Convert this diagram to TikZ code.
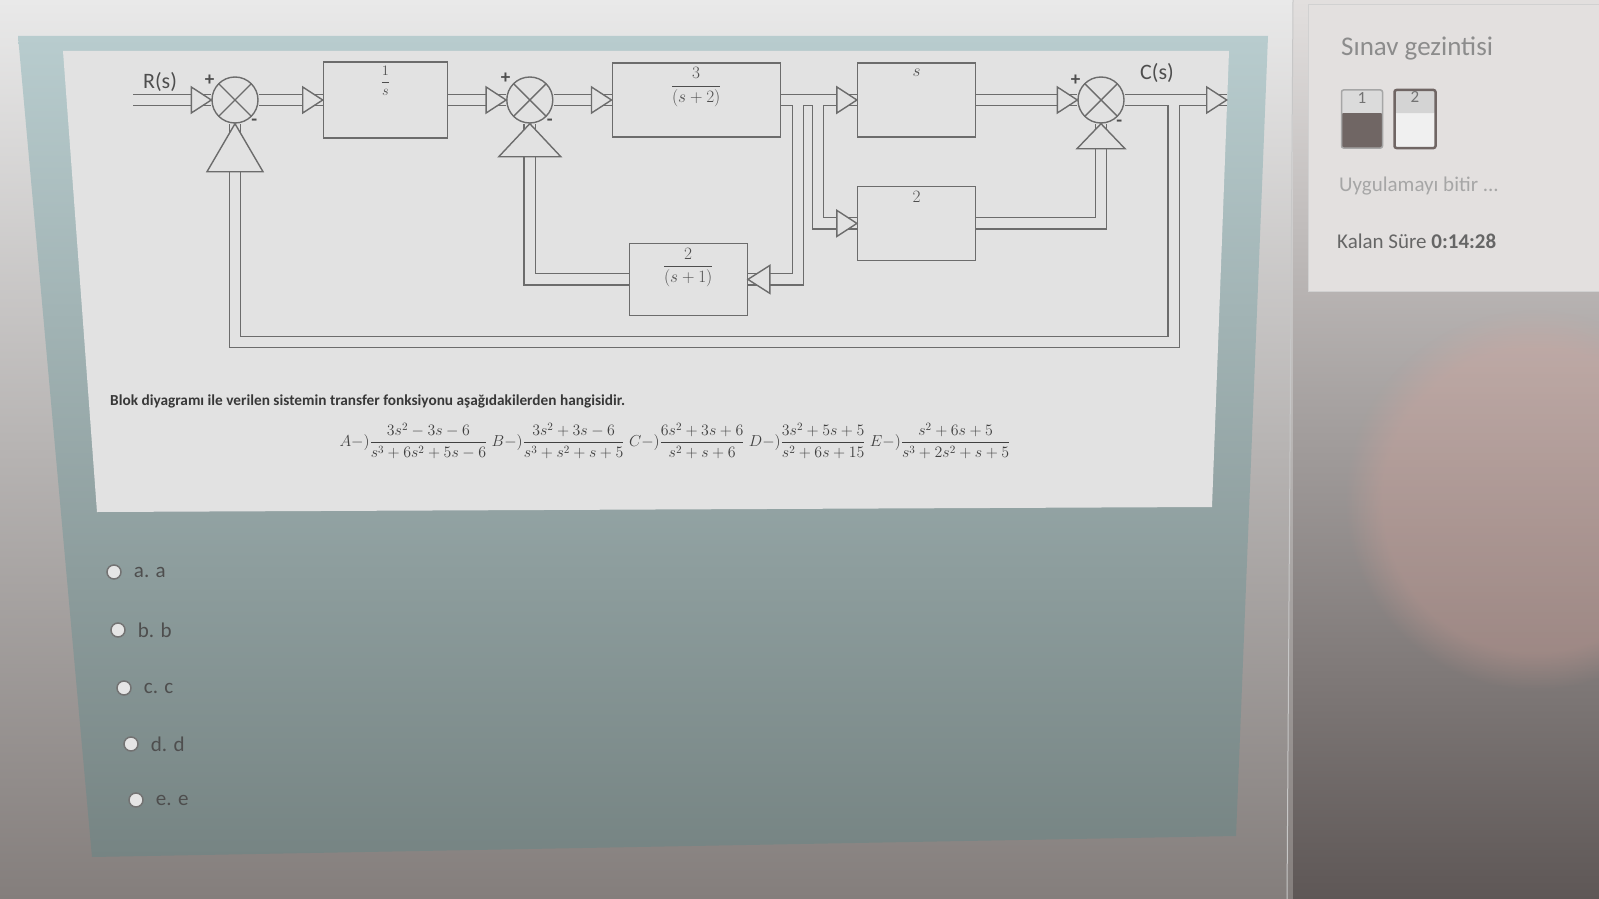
\documentclass[tikz,border=0pt]{standalone}
\usepackage{fix-cm}
\usepackage{amsmath}
\usepackage{fontspec}
\setmainfont{Carlito}
\usetikzlibrary{positioning, calc, decorations.markings, fadings}
\definecolor{linec}{RGB}{108,108,108}
\definecolor{paper}{RGB}{226,226,226}
\definecolor{inkc}{RGB}{78,78,78}
\definecolor{tealtop}{RGB}{184,204,206}
\definecolor{tealbot}{RGB}{118,132,131}
\definecolor{navdark}{RGB}{112,102,100}
\tikzset{
    block/.style={
        rectangle, draw=linec, fill=paper, line width=1.4pt,
        minimum width=118pt, minimum height=74pt, inner sep=0pt
    },
    sum/.style={
        circle, draw=linec, fill=paper, line width=1.4pt,
        minimum size=46pt, inner sep=0pt,
        path picture={\draw[linec, line width=1.4pt]
            (path picture bounding box.north west) -- (path picture bounding box.south east)
            (path picture bounding box.north east) -- (path picture bounding box.south west);}
    },
    tf/.style={anchor=north, inner sep=5pt, text=inkc, font=\fontsize{17.3}{20}\selectfont},
    sign/.style={inner sep=1pt, text=inkc, font=\bfseries\fontsize{19}{19}\selectfont},
    io/.style={text=inkc, font=\fontsize{22}{24}\selectfont},
    % hollow arrows of the diagram
    pipe/.style={draw=linec, double=paper, double distance=10pt, line width=1.4pt, line join=miter},
    tipline/.style={draw=linec, fill=paper, line width=1.4pt, line join=miter},
    tip/.style args={#1/#2}{postaction={decorate}, decoration={markings,
        mark=at position 1 with {\draw[tipline] (-#1pt,-#2pt) -- (0pt,0pt) -- (-#1pt,#2pt) -- cycle;}}},
    tip/.default={20/13},
    % page parts
    radio/.style={circle, draw=black!55, fill=black!10, line width=1.5pt, minimum size=14pt, inner sep=0pt},
    opttext/.style={text=inkc, font=\fontsize{21}{23}\selectfont, inner sep=0pt},
    navbox/.style={rectangle, rounded corners=2pt, minimum width=41pt, minimum height=58pt, inner sep=0pt},
    navnum/.style={anchor=north, inner sep=3pt, text=black!55, font=\fontsize{17}{18}\selectfont}
}
\begin{document}
\begin{tikzpicture}[x=1pt, y=-1pt]
    \useasboundingbox (0,0) rectangle (1599,899);
    % screen
    \shade[top color={rgb,255:red,233;green,233;blue,233}, bottom color={rgb,255:red,132;green,126;blue,124}] (0,0) rectangle (1599,899);
    \shade[top color={rgb,255:red,226;green,223;blue,222}, middle color={rgb,255:red,188;green,176;blue,173}, bottom color={rgb,255:red,94;green,87;blue,86}] (1293,0) rectangle (1599,899);
    \fill[color={rgb,255:red,222;green,165;blue,155}, path fading=circle with fuzzy edge 20 percent, opacity=0.3] (1535,500) circle (190);
    \draw[black!22, line width=1pt] (1293,0) -- (1287,899);
    \shade[top color=tealtop, bottom color=tealbot] (18,36) -- (1268,36) -- (1236,836) -- (92,857) -- cycle;
    \fill[paper] (63,51) -- (1229,51) -- (1212,507) -- (97,512) -- cycle;

    % Nodes
    \node [sum, label={[sign]145:+}, label={[sign]-50:-}] (sum1) at (235,100) {};
    \node [block, right=64pt of sum1, minimum width=124pt, minimum height=76pt,
        label={[tf, font=\fontsize{14.4}{17}\selectfont]north:$\dfrac{1}{s}$}] (blk1) {};
    \node [sum, right=58pt of blk1, label={[sign]140:+}, label={[sign]-48:-}] (sum2) {};
    \node [block, right=58pt of sum2, minimum width=168pt,
        label={[tf]north:$\dfrac{3}{(s+2)}$}] (blk2) {};
    \node [block, right=76pt of blk2, label={[tf, inner sep=7pt]north:$s$}] (blk3) {};
    \node [sum, right=101pt of blk3, label={[sign]145:+}, label={[sign]-53:-}] (sum3) {};
    \node [block, below=48pt of blk3, label={[tf]north:$2$}] (blk4) {};
    \node [block, below=105pt of blk2, xshift=-8pt, minimum height=72pt,
        label={[tf]north:$\dfrac{2}{(s+1)}$}] (blk5) {};

    \node [io] (rlbl) at (160,82) {R(s)};
    \node [io] (clbl) at (1157,73) {C(s)};

    \coordinate (in) at (133,100);
    \coordinate [right=102pt of sum3] (out);
    \coordinate (br5) at ($(blk2.east)+(17,5)$);
    \coordinate (br4) at ($(blk2.east)+(37,5)$);
    \coordinate (fb) at ($(sum3.east)+(49,5)$);
    \coordinate (fbl) at ($(sum1)+(0,242)$);

    % Edges
    \draw [pipe, tip] (in) -- (sum1);
    \draw [pipe, tip] (sum1) -- (blk1);
    \draw [pipe, tip] (blk1) -- (sum2);
    \draw [pipe, tip] (sum2) -- (blk2);
    \draw [pipe, tip] (blk2) -- (blk3);
    \draw [pipe, tip] (blk3) -- (sum3);
    \draw [pipe, tip] (sum3) -- (out);
    \draw [pipe, tip] (br4) |- (blk4);
    \draw [pipe, tip=22/14] (br5) |- (blk5);
    \draw [pipe, tip=25/24] (blk4) -| (sum3);
    \draw [pipe, tip=33/31] (blk5) -| (sum2);
    \draw [pipe, tip=48/28] (fb) |- (fbl) -- (sum1);

    % question
    \node [anchor=west, inner sep=0pt, text=black!78, font=\bfseries\fontsize{15.3}{17}\selectfont] (qtext) at (110,401)
        {Blok diyagramı ile verilen sistemin transfer fonksiyonu aşağıdakilerden hangisidir.};
    \node [text=black!75, font=\fontsize{15.9}{19}\selectfont] (answers) at (675,441)
        {$A{-})\dfrac{3s^2-3s-6}{s^3+6s^2+5s-6}\;B{-})\dfrac{3s^2+3s-6}{s^3+s^2+s+5}\;C{-})\dfrac{6s^2+3s+6}{s^2+s+6}\;D{-})\dfrac{3s^2+5s+5}{s^2+6s+15}\;E{-})\dfrac{s^2+6s+5}{s^3+2s^2+s+5}$};

    % options
    \foreach \k/\x/\y in {a/114/572, b/118/630, c/124/688, d/131/744, e/136/800}{
        \node [radio] (opt\k) at (\x,\y) {};
        \node [opttext, right=12pt of opt\k] (lbl\k) {\k. \k};
    }

    % navigation panel
    \draw [fill={rgb,255:red,227;green,224;blue,223}, draw=black!18, line width=1pt] (1308,5) rectangle (1599,291);
    \node [anchor=west, inner sep=0pt, text=black!45, font=\fontsize{27}{29}\selectfont] (navt) at (1341,48) {Sınav gezintisi};
    \node [navbox, fill=black!14, draw=black!35, line width=1.5pt,
        path picture={\fill[navdark] (path picture bounding box.south west) rectangle ($(path picture bounding box.east)+(0,-6)$);},
        label={[navnum]north:1}] (nav1) at (1362,119) {};
    \node [navbox, right=10pt of nav1, fill=black!6, draw=navdark, line width=2.5pt,
        path picture={\fill[black!17] (path picture bounding box.north west) rectangle ($(path picture bounding box.east)+(0,-6)$);},
        label={[navnum]north:2}] (nav2) {};
    \node [anchor=west, inner sep=0pt, text=black!35, font=\fontsize{21}{23}\selectfont] (finish) at (1339,186) {Uygulamayı bitir ...};
    \node [anchor=west, inner sep=0pt, text=black!60, font=\fontsize{21}{23}\selectfont] (timer) at (1337,241) {Kalan Süre \textbf{0:14:28}};
\end{tikzpicture}
\end{document}
